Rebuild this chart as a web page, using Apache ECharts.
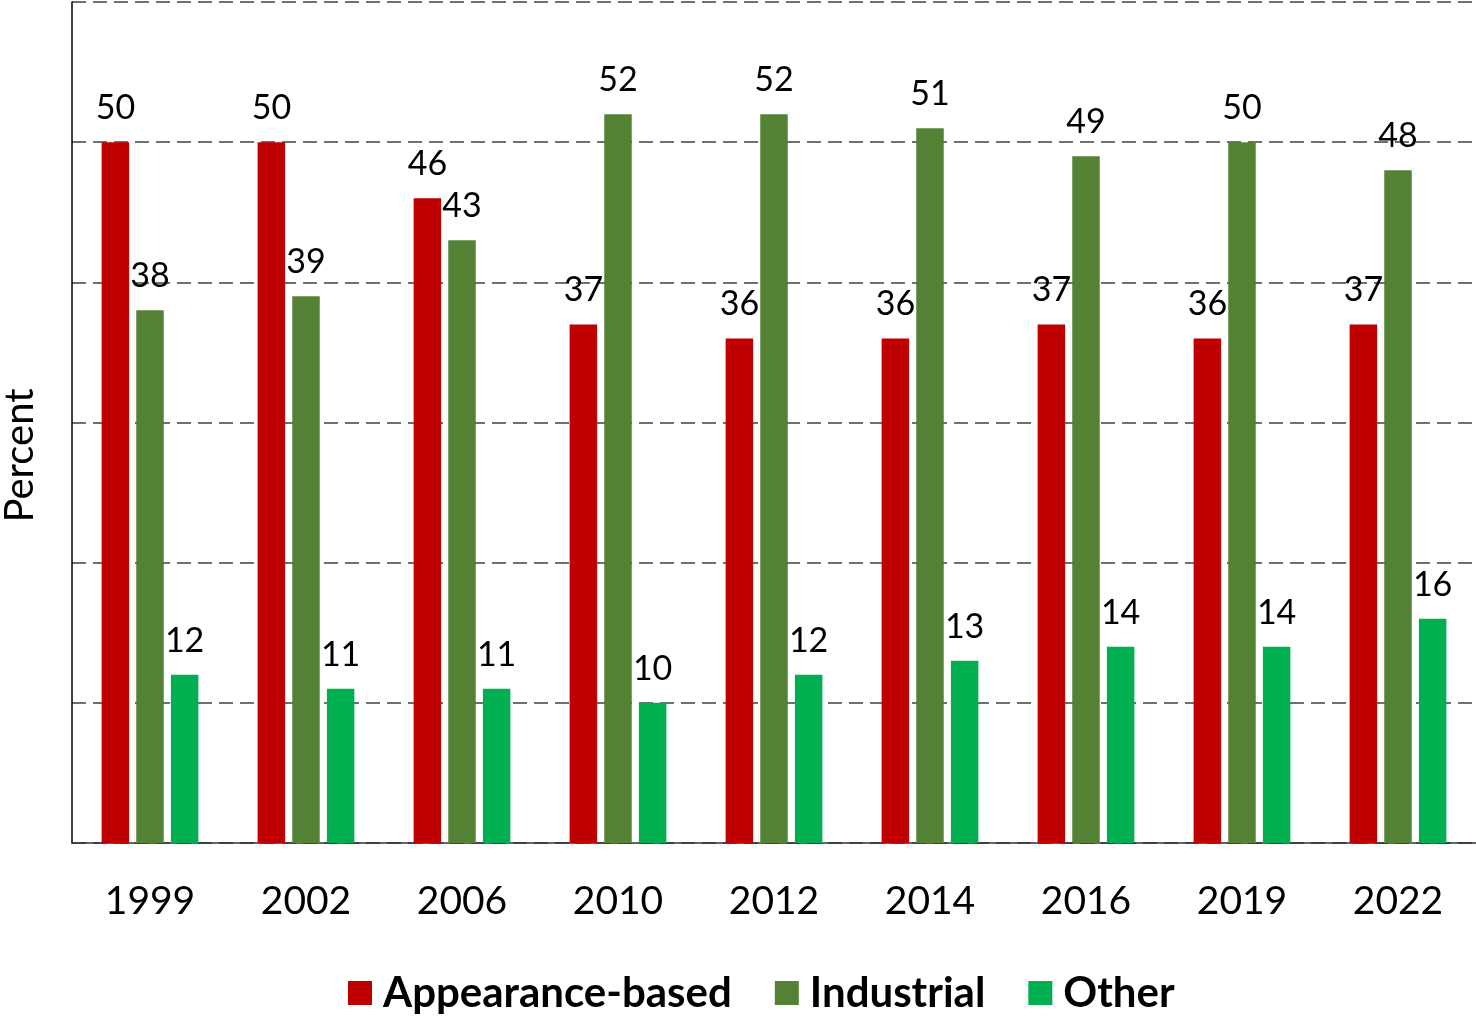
<!DOCTYPE html>
<html>
<head>
<meta charset="utf-8">
<script src="https://cdn.jsdelivr.net/npm/echarts@6/dist/echarts.min.js"></script>
<style>
html,body{margin:0;padding:0;background:#fff;}
#c{width:1476px;height:1016px;}
</style>
</head>
<body>
<div id="c"></div>
<script>
var categories = ['1999','2002','2006','2010','2012','2014','2016','2019','2022'];
var appearanceBased = [50, 50, 46, 37, 36, 36, 37, 36, 37];
var industrial = [38, 39, 43, 52, 52, 51, 49, 50, 48];
var other = [12, 11, 11, 10, 12, 13, 14, 14, 16];
var seriesNames = ['Appearance-based', 'Industrial', 'Other'];

var FONT = 'Lato';
var chart = echarts.init(document.getElementById('c'), null, {renderer: 'canvas'});

function mkSeries(name, data, color) {
  return {
    name: name,
    type: 'bar',
    data: data,
    barGap: '26%',
    barCategoryGap: '38%',
    itemStyle: {color: color},
    label: {
      show: true,
      position: 'top',
      distance: 17,
      color: '#000',
      fontFamily: FONT,
      fontSize: 34
    }
  };
}

chart.setOption({
  animation: false,
  textStyle: {fontFamily: FONT},
  grid: {left: 72, right: 0, top: 2, bottom: 173, containLabel: false, outerBoundsMode: 'none'},
  legend: {
    data: seriesNames,
    left: 343,
    top: 967,
    itemWidth: 24,
    itemHeight: 24,
    itemGap: 43,
    icon: 'rect',
    textStyle: {
      fontFamily: FONT,
      fontWeight: 'bold',
      fontSize: 42,
      color: '#000',
      padding: [0, 0, 0, 6]
    }
  },
  xAxis: {
    type: 'category',
    data: categories,
    axisLine: {lineStyle: {color: '#333', width: 1.5}},
    axisTick: {show: false},
    axisLabel: {color: '#000', fontFamily: FONT, fontSize: 39, margin: 39}
  },
  yAxis: {
    type: 'value',
    min: 0,
    max: 60,
    interval: 10,
    name: 'Percent',
    nameLocation: 'middle',
    nameGap: 32,
    nameTextStyle: {color: '#000', fontFamily: FONT, fontSize: 40, padding: [0, 66, 0, 0]},
    axisLine: {show: true, lineStyle: {color: '#000', width: 1.5}},
    axisTick: {show: false},
    axisLabel: {show: false},
    splitLine: {lineStyle: {color: '#404040', width: 1.5, type: [14, 7]}}
  },
  series: [
    mkSeries(seriesNames[0], appearanceBased, '#C00000'),
    mkSeries(seriesNames[1], industrial, '#548235'),
    mkSeries(seriesNames[2], other, '#00B050')
  ]
});
</script>
</body>
</html>
